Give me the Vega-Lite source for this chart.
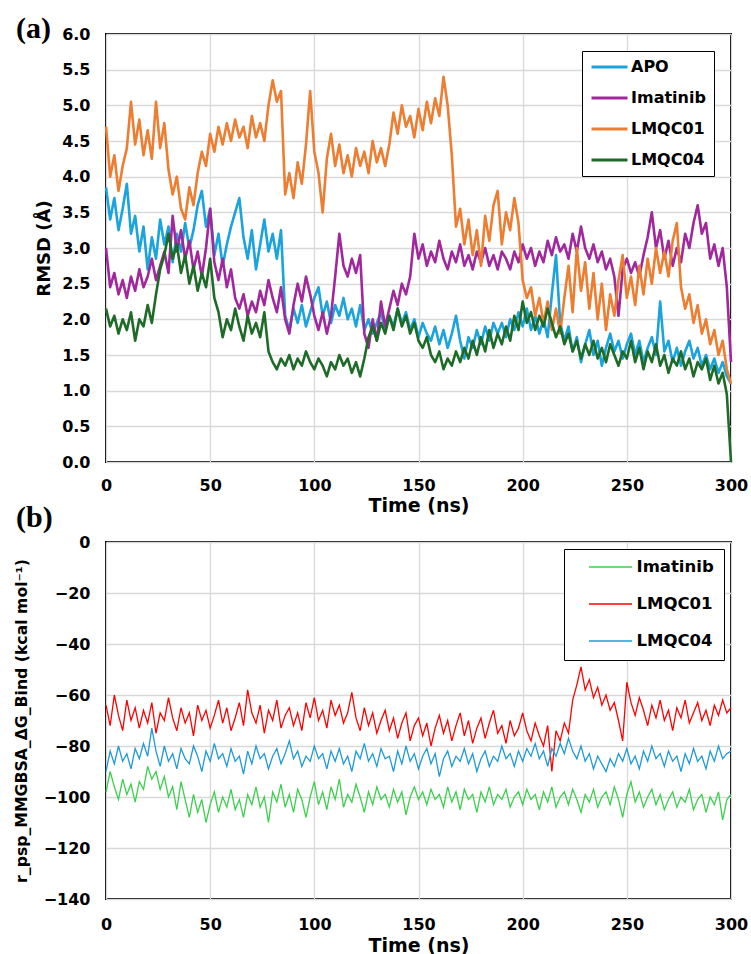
{
"$schema":"https://vega.github.io/schema/vega-lite/v6.json",
"background":"white",
"autosize":{"type":"pad"},
"padding":{"left":12,"top":13,"right":10,"bottom":0},
"spacing":80,
"bounds":"flush",
"resolve":{"scale":{"color":"independent"},"legend":{"color":"independent"}},
"datasets":{
"apo":[{"t":0,"v":3.85},{"t":2,"v":3.40},{"t":4,"v":3.70},{"t":6,"v":3.25},{"t":8,"v":3.55},{"t":10,"v":3.90},{"t":12,"v":3.20},{"t":14,"v":3.45},{"t":16,"v":2.95},{"t":18,"v":3.30},
{"t":20,"v":2.70},{"t":22,"v":3.15},{"t":24,"v":2.85},{"t":26,"v":3.40},{"t":28,"v":3.05},{"t":30,"v":3.30},{"t":32,"v":2.80},{"t":34,"v":3.20},{"t":36,"v":2.95},{"t":38,"v":3.35},
{"t":40,"v":3.00},{"t":42,"v":3.25},{"t":44,"v":3.60},{"t":46,"v":3.80},{"t":48,"v":3.30},{"t":50,"v":3.55},{"t":52,"v":2.90},{"t":54,"v":3.20},{"t":56,"v":2.75},{"t":58,"v":3.05},
{"t":60,"v":3.30},{"t":62,"v":3.50},{"t":64,"v":3.70},{"t":66,"v":3.15},{"t":68,"v":2.85},{"t":70,"v":3.25},{"t":72,"v":2.70},{"t":74,"v":3.05},{"t":76,"v":3.40},{"t":78,"v":2.95},
{"t":80,"v":3.20},{"t":82,"v":2.85},{"t":84,"v":3.25},{"t":86,"v":2.05},{"t":88,"v":1.85},{"t":90,"v":2.15},{"t":92,"v":1.95},{"t":94,"v":2.20},{"t":96,"v":1.90},{"t":98,"v":2.10},
{"t":100,"v":2.30},{"t":102,"v":2.45},{"t":104,"v":2.05},{"t":106,"v":2.25},{"t":108,"v":1.95},{"t":110,"v":2.20},{"t":112,"v":2.05},{"t":114,"v":2.30},{"t":116,"v":2.00},{"t":118,"v":2.15},
{"t":120,"v":1.90},{"t":122,"v":2.20},{"t":124,"v":1.85},{"t":126,"v":2.00},{"t":128,"v":1.80},{"t":130,"v":1.95},{"t":132,"v":2.10},{"t":134,"v":1.85},{"t":136,"v":2.05},{"t":138,"v":1.90},
{"t":140,"v":2.15},{"t":142,"v":1.95},{"t":144,"v":2.10},{"t":146,"v":1.85},{"t":148,"v":2.00},{"t":150,"v":1.75},{"t":152,"v":1.95},{"t":154,"v":1.80},{"t":156,"v":1.70},{"t":158,"v":1.90},
{"t":160,"v":1.65},{"t":162,"v":1.85},{"t":164,"v":1.60},{"t":166,"v":1.80},{"t":168,"v":2.05},{"t":170,"v":1.70},{"t":172,"v":1.45},{"t":174,"v":1.75},{"t":176,"v":1.60},{"t":178,"v":1.85},
{"t":180,"v":1.65},{"t":182,"v":1.90},{"t":184,"v":1.70},{"t":186,"v":1.95},{"t":188,"v":1.80},{"t":190,"v":1.95},{"t":192,"v":1.75},{"t":194,"v":2.00},{"t":196,"v":1.85},{"t":198,"v":2.10},
{"t":200,"v":1.90},{"t":202,"v":2.15},{"t":204,"v":1.85},{"t":206,"v":2.05},{"t":208,"v":1.80},{"t":210,"v":2.00},{"t":212,"v":1.75},{"t":214,"v":2.35},{"t":216,"v":2.90},{"t":218,"v":1.95},
{"t":220,"v":1.70},{"t":222,"v":1.90},{"t":224,"v":1.55},{"t":226,"v":1.75},{"t":228,"v":1.40},{"t":230,"v":1.65},{"t":232,"v":1.85},{"t":234,"v":1.50},{"t":236,"v":1.70},{"t":238,"v":1.35},
{"t":240,"v":1.60},{"t":242,"v":1.80},{"t":244,"v":1.55},{"t":246,"v":1.70},{"t":248,"v":1.45},{"t":250,"v":1.65},{"t":252,"v":1.80},{"t":254,"v":1.50},{"t":256,"v":1.70},{"t":258,"v":1.40},
{"t":260,"v":1.60},{"t":262,"v":1.75},{"t":264,"v":1.50},{"t":266,"v":2.25},{"t":268,"v":1.55},{"t":270,"v":1.70},{"t":272,"v":1.40},{"t":274,"v":1.60},{"t":276,"v":1.35},{"t":278,"v":1.55},
{"t":280,"v":1.70},{"t":282,"v":1.45},{"t":284,"v":1.60},{"t":286,"v":1.35},{"t":288,"v":1.50},{"t":290,"v":1.30},{"t":292,"v":1.45},{"t":294,"v":1.25},{"t":296,"v":1.40},{"t":298,"v":1.20},{"t":300,"v":1.10}],
"ima":[{"t":0,"v":3.00},{"t":2,"v":2.45},{"t":4,"v":2.65},{"t":6,"v":2.35},{"t":8,"v":2.55},{"t":10,"v":2.30},{"t":12,"v":2.60},{"t":14,"v":2.40},{"t":16,"v":2.70},{"t":18,"v":2.45},
{"t":20,"v":2.60},{"t":22,"v":2.85},{"t":24,"v":2.55},{"t":26,"v":2.75},{"t":28,"v":2.95},{"t":30,"v":2.65},{"t":32,"v":3.45},{"t":34,"v":2.95},{"t":36,"v":3.25},{"t":38,"v":2.85},
{"t":40,"v":3.10},{"t":42,"v":2.70},{"t":44,"v":2.95},{"t":46,"v":2.60},{"t":48,"v":3.00},{"t":50,"v":3.55},{"t":52,"v":2.80},{"t":54,"v":2.55},{"t":56,"v":2.85},{"t":58,"v":2.45},
{"t":60,"v":2.70},{"t":62,"v":2.30},{"t":64,"v":2.15},{"t":66,"v":2.35},{"t":68,"v":2.05},{"t":70,"v":2.25},{"t":72,"v":2.10},{"t":74,"v":2.40},{"t":76,"v":2.20},{"t":78,"v":2.55},
{"t":80,"v":2.30},{"t":82,"v":2.10},{"t":84,"v":2.45},{"t":86,"v":2.00},{"t":88,"v":1.80},{"t":90,"v":2.20},{"t":92,"v":2.50},{"t":94,"v":2.25},{"t":96,"v":2.60},{"t":98,"v":2.35},
{"t":100,"v":2.05},{"t":102,"v":1.85},{"t":104,"v":2.10},{"t":106,"v":1.80},{"t":108,"v":2.05},{"t":110,"v":2.60},{"t":112,"v":3.20},{"t":114,"v":2.75},{"t":116,"v":2.60},{"t":118,"v":2.85},
{"t":120,"v":2.65},{"t":122,"v":2.90},{"t":124,"v":1.80},{"t":126,"v":1.60},{"t":128,"v":2.00},{"t":130,"v":1.70},{"t":132,"v":2.25},{"t":134,"v":1.90},{"t":136,"v":2.15},{"t":138,"v":2.40},
{"t":140,"v":2.20},{"t":142,"v":2.50},{"t":144,"v":2.35},{"t":146,"v":2.60},{"t":148,"v":3.20},{"t":150,"v":2.85},{"t":152,"v":3.05},{"t":154,"v":2.75},{"t":156,"v":2.95},{"t":158,"v":2.80},
{"t":160,"v":3.10},{"t":162,"v":2.85},{"t":164,"v":2.70},{"t":166,"v":2.95},{"t":168,"v":2.80},{"t":170,"v":3.05},{"t":172,"v":2.75},{"t":174,"v":2.90},{"t":176,"v":2.70},{"t":178,"v":2.95},
{"t":180,"v":2.80},{"t":182,"v":3.00},{"t":184,"v":2.75},{"t":186,"v":2.90},{"t":188,"v":2.70},{"t":190,"v":2.95},{"t":192,"v":2.85},{"t":194,"v":2.70},{"t":196,"v":2.95},{"t":198,"v":2.80},
{"t":200,"v":3.05},{"t":202,"v":2.85},{"t":204,"v":3.00},{"t":206,"v":2.75},{"t":208,"v":2.95},{"t":210,"v":2.80},{"t":212,"v":3.10},{"t":214,"v":2.90},{"t":216,"v":3.15},{"t":218,"v":2.95},
{"t":220,"v":3.05},{"t":222,"v":2.85},{"t":224,"v":3.20},{"t":226,"v":2.95},{"t":228,"v":3.30},{"t":230,"v":3.00},{"t":232,"v":2.85},{"t":234,"v":3.05},{"t":236,"v":2.80},{"t":238,"v":2.95},
{"t":240,"v":2.70},{"t":242,"v":2.85},{"t":244,"v":2.60},{"t":246,"v":2.05},{"t":248,"v":2.70},{"t":250,"v":2.85},{"t":252,"v":2.65},{"t":254,"v":2.80},{"t":256,"v":2.60},{"t":258,"v":2.90},
{"t":260,"v":3.15},{"t":262,"v":3.50},{"t":264,"v":3.00},{"t":266,"v":3.25},{"t":268,"v":2.85},{"t":270,"v":3.10},{"t":272,"v":2.75},{"t":274,"v":3.00},{"t":276,"v":2.80},{"t":278,"v":3.20},
{"t":280,"v":3.00},{"t":282,"v":3.35},{"t":284,"v":3.60},{"t":286,"v":3.20},{"t":288,"v":3.35},{"t":290,"v":2.85},{"t":292,"v":3.05},{"t":294,"v":2.75},{"t":296,"v":3.00},{"t":298,"v":2.45},{"t":300,"v":1.40}],
"l01":[{"t":0,"v":4.70},{"t":2,"v":4.00},{"t":4,"v":4.30},{"t":6,"v":3.80},{"t":8,"v":4.15},{"t":10,"v":4.40},{"t":12,"v":5.05},{"t":14,"v":4.45},{"t":16,"v":4.80},{"t":18,"v":4.30},
{"t":20,"v":4.65},{"t":22,"v":4.25},{"t":24,"v":5.05},{"t":26,"v":4.40},{"t":28,"v":4.75},{"t":30,"v":4.10},{"t":32,"v":3.75},{"t":34,"v":4.00},{"t":36,"v":3.55},{"t":38,"v":3.40},
{"t":40,"v":3.85},{"t":42,"v":3.60},{"t":44,"v":4.05},{"t":46,"v":4.35},{"t":48,"v":4.15},{"t":50,"v":4.60},{"t":52,"v":4.35},{"t":54,"v":4.70},{"t":56,"v":4.45},{"t":58,"v":4.75},
{"t":60,"v":4.50},{"t":62,"v":4.80},{"t":64,"v":4.55},{"t":66,"v":4.70},{"t":68,"v":4.40},{"t":70,"v":4.85},{"t":72,"v":4.55},{"t":74,"v":4.75},{"t":76,"v":4.50},{"t":78,"v":5.00},
{"t":80,"v":5.35},{"t":82,"v":5.05},{"t":84,"v":5.20},{"t":86,"v":3.75},{"t":88,"v":4.05},{"t":90,"v":3.70},{"t":92,"v":4.20},{"t":94,"v":3.90},{"t":96,"v":4.45},{"t":98,"v":5.20},
{"t":100,"v":4.35},{"t":102,"v":4.05},{"t":104,"v":3.50},{"t":106,"v":4.25},{"t":108,"v":4.60},{"t":110,"v":4.15},{"t":112,"v":4.45},{"t":114,"v":4.05},{"t":116,"v":4.30},{"t":118,"v":4.00},
{"t":120,"v":4.40},{"t":122,"v":4.15},{"t":124,"v":4.35},{"t":126,"v":4.05},{"t":128,"v":4.50},{"t":130,"v":4.20},{"t":132,"v":4.40},{"t":134,"v":4.15},{"t":136,"v":4.45},{"t":138,"v":4.90},
{"t":140,"v":4.60},{"t":142,"v":5.00},{"t":144,"v":4.70},{"t":146,"v":4.85},{"t":148,"v":4.55},{"t":150,"v":4.95},{"t":152,"v":4.65},{"t":154,"v":5.05},{"t":156,"v":4.75},{"t":158,"v":5.10},
{"t":160,"v":4.85},{"t":162,"v":5.40},{"t":164,"v":5.00},{"t":166,"v":4.30},{"t":168,"v":3.30},{"t":170,"v":3.55},{"t":172,"v":3.05},{"t":174,"v":3.40},{"t":176,"v":2.90},{"t":178,"v":3.25},
{"t":180,"v":2.75},{"t":182,"v":3.45},{"t":184,"v":3.10},{"t":186,"v":3.60},{"t":188,"v":3.80},{"t":190,"v":3.05},{"t":192,"v":3.50},{"t":194,"v":3.25},{"t":196,"v":3.70},{"t":198,"v":3.35},
{"t":200,"v":2.55},{"t":202,"v":2.30},{"t":204,"v":2.45},{"t":206,"v":2.05},{"t":208,"v":2.30},{"t":210,"v":1.95},{"t":212,"v":2.25},{"t":214,"v":1.85},{"t":216,"v":2.15},{"t":218,"v":1.80},
{"t":220,"v":2.30},{"t":222,"v":2.75},{"t":224,"v":2.10},{"t":226,"v":3.00},{"t":228,"v":2.40},{"t":230,"v":2.80},{"t":232,"v":2.15},{"t":234,"v":2.65},{"t":236,"v":2.00},{"t":238,"v":2.50},
{"t":240,"v":1.85},{"t":242,"v":2.35},{"t":244,"v":2.05},{"t":246,"v":2.55},{"t":248,"v":2.90},{"t":250,"v":2.30},{"t":252,"v":2.60},{"t":254,"v":2.20},{"t":256,"v":2.75},{"t":258,"v":2.35},
{"t":260,"v":2.85},{"t":262,"v":2.50},{"t":264,"v":3.00},{"t":266,"v":2.65},{"t":268,"v":2.95},{"t":270,"v":2.60},{"t":272,"v":3.10},{"t":274,"v":3.35},{"t":276,"v":2.45},{"t":278,"v":2.15},
{"t":280,"v":2.35},{"t":282,"v":1.95},{"t":284,"v":2.20},{"t":286,"v":1.80},{"t":288,"v":2.00},{"t":290,"v":1.65},{"t":292,"v":1.85},{"t":294,"v":1.50},{"t":296,"v":1.70},{"t":298,"v":1.30},{"t":300,"v":1.10}],
"l04":[{"t":0,"v":2.15},{"t":2,"v":1.90},{"t":4,"v":2.05},{"t":6,"v":1.80},{"t":8,"v":2.00},{"t":10,"v":1.85},{"t":12,"v":2.10},{"t":14,"v":1.70},{"t":16,"v":2.00},{"t":18,"v":1.90},
{"t":20,"v":2.20},{"t":22,"v":1.95},{"t":24,"v":2.35},{"t":26,"v":2.70},{"t":28,"v":2.90},{"t":30,"v":3.20},{"t":32,"v":2.85},{"t":34,"v":3.05},{"t":36,"v":2.65},{"t":38,"v":2.90},
{"t":40,"v":2.50},{"t":42,"v":2.75},{"t":44,"v":2.40},{"t":46,"v":2.65},{"t":48,"v":2.45},{"t":50,"v":2.85},{"t":52,"v":2.30},{"t":54,"v":2.10},{"t":56,"v":1.75},{"t":58,"v":2.00},
{"t":60,"v":1.85},{"t":62,"v":2.15},{"t":64,"v":1.90},{"t":66,"v":1.70},{"t":68,"v":2.05},{"t":70,"v":1.80},{"t":72,"v":1.95},{"t":74,"v":1.75},{"t":76,"v":2.10},{"t":78,"v":1.55},
{"t":80,"v":1.40},{"t":82,"v":1.30},{"t":84,"v":1.45},{"t":86,"v":1.35},{"t":88,"v":1.50},{"t":90,"v":1.30},{"t":92,"v":1.45},{"t":94,"v":1.35},{"t":96,"v":1.55},{"t":98,"v":1.40},
{"t":100,"v":1.30},{"t":102,"v":1.45},{"t":104,"v":1.35},{"t":106,"v":1.20},{"t":108,"v":1.40},{"t":110,"v":1.30},{"t":112,"v":1.50},{"t":114,"v":1.35},{"t":116,"v":1.45},{"t":118,"v":1.25},
{"t":120,"v":1.40},{"t":122,"v":1.20},{"t":124,"v":1.45},{"t":126,"v":1.75},{"t":128,"v":1.90},{"t":130,"v":1.70},{"t":132,"v":1.95},{"t":134,"v":1.80},{"t":136,"v":2.05},{"t":138,"v":1.85},
{"t":140,"v":2.15},{"t":142,"v":1.90},{"t":144,"v":2.05},{"t":146,"v":1.80},{"t":148,"v":1.95},{"t":150,"v":1.70},{"t":152,"v":1.60},{"t":154,"v":1.75},{"t":156,"v":1.50},{"t":158,"v":1.40},
{"t":160,"v":1.55},{"t":162,"v":1.30},{"t":164,"v":1.45},{"t":166,"v":1.35},{"t":168,"v":1.55},{"t":170,"v":1.40},{"t":172,"v":1.60},{"t":174,"v":1.45},{"t":176,"v":1.70},{"t":178,"v":1.50},
{"t":180,"v":1.75},{"t":182,"v":1.55},{"t":184,"v":1.85},{"t":186,"v":1.60},{"t":188,"v":1.80},{"t":190,"v":1.65},{"t":192,"v":1.90},{"t":194,"v":1.70},{"t":196,"v":2.05},{"t":198,"v":1.85},
{"t":200,"v":2.25},{"t":202,"v":1.95},{"t":204,"v":2.10},{"t":206,"v":1.85},{"t":208,"v":2.05},{"t":210,"v":1.90},{"t":212,"v":2.15},{"t":214,"v":1.95},{"t":216,"v":1.75},{"t":218,"v":1.90},
{"t":220,"v":1.65},{"t":222,"v":1.80},{"t":224,"v":1.55},{"t":226,"v":1.70},{"t":228,"v":1.45},{"t":230,"v":1.65},{"t":232,"v":1.50},{"t":234,"v":1.70},{"t":236,"v":1.45},{"t":238,"v":1.60},
{"t":240,"v":1.40},{"t":242,"v":1.65},{"t":244,"v":1.50},{"t":246,"v":1.35},{"t":248,"v":1.55},{"t":250,"v":1.45},{"t":252,"v":1.70},{"t":254,"v":1.40},{"t":256,"v":1.60},{"t":258,"v":1.30},
{"t":260,"v":1.55},{"t":262,"v":1.40},{"t":264,"v":1.65},{"t":266,"v":1.35},{"t":268,"v":1.50},{"t":270,"v":1.25},{"t":272,"v":1.45},{"t":274,"v":1.35},{"t":276,"v":1.55},{"t":278,"v":1.30},
{"t":280,"v":1.45},{"t":282,"v":1.20},{"t":284,"v":1.40},{"t":286,"v":1.30},{"t":288,"v":1.45},{"t":290,"v":1.15},{"t":292,"v":1.35},{"t":294,"v":1.10},{"t":296,"v":1.25},{"t":298,"v":0.95},{"t":300,"v":0.00}],
"bima":[{"t":0,"v":-98},{"t":2,"v":-90},{"t":4,"v":-96},{"t":6,"v":-101},{"t":8,"v":-93},{"t":10,"v":-99},{"t":12,"v":-95},{"t":14,"v":-102},{"t":16,"v":-94},{"t":18,"v":-97},
{"t":20,"v":-88},{"t":22,"v":-93},{"t":24,"v":-90},{"t":26,"v":-97},{"t":28,"v":-92},{"t":30,"v":-100},{"t":32,"v":-96},{"t":34,"v":-105},{"t":36,"v":-94},{"t":38,"v":-101},
{"t":40,"v":-108},{"t":42,"v":-99},{"t":44,"v":-106},{"t":46,"v":-101},{"t":48,"v":-110},{"t":50,"v":-103},{"t":52,"v":-98},{"t":54,"v":-106},{"t":56,"v":-100},{"t":58,"v":-104},
{"t":60,"v":-97},{"t":62,"v":-105},{"t":64,"v":-101},{"t":66,"v":-108},{"t":68,"v":-99},{"t":70,"v":-103},{"t":72,"v":-96},{"t":74,"v":-104},{"t":76,"v":-100},{"t":78,"v":-110},
{"t":80,"v":-98},{"t":82,"v":-102},{"t":84,"v":-95},{"t":86,"v":-104},{"t":88,"v":-99},{"t":90,"v":-106},{"t":92,"v":-97},{"t":94,"v":-101},{"t":96,"v":-108},{"t":98,"v":-100},
{"t":100,"v":-94},{"t":102,"v":-103},{"t":104,"v":-98},{"t":106,"v":-105},{"t":108,"v":-96},{"t":110,"v":-101},{"t":112,"v":-93},{"t":114,"v":-104},{"t":116,"v":-99},{"t":118,"v":-102},
{"t":120,"v":-95},{"t":122,"v":-100},{"t":124,"v":-106},{"t":126,"v":-98},{"t":128,"v":-103},{"t":130,"v":-96},{"t":132,"v":-101},{"t":134,"v":-99},{"t":136,"v":-104},{"t":138,"v":-97},
{"t":140,"v":-102},{"t":142,"v":-98},{"t":144,"v":-107},{"t":146,"v":-100},{"t":148,"v":-96},{"t":150,"v":-101},{"t":152,"v":-98},{"t":154,"v":-103},{"t":156,"v":-97},{"t":158,"v":-101},
{"t":160,"v":-99},{"t":162,"v":-104},{"t":164,"v":-96},{"t":166,"v":-102},{"t":168,"v":-98},{"t":170,"v":-105},{"t":172,"v":-97},{"t":174,"v":-101},{"t":176,"v":-99},{"t":178,"v":-106},
{"t":180,"v":-98},{"t":182,"v":-102},{"t":184,"v":-96},{"t":186,"v":-103},{"t":188,"v":-99},{"t":190,"v":-101},{"t":192,"v":-97},{"t":194,"v":-104},{"t":196,"v":-100},{"t":198,"v":-98},
{"t":200,"v":-103},{"t":202,"v":-97},{"t":204,"v":-101},{"t":206,"v":-99},{"t":208,"v":-105},{"t":210,"v":-98},{"t":212,"v":-102},{"t":214,"v":-96},{"t":216,"v":-104},{"t":218,"v":-100},
{"t":220,"v":-98},{"t":222,"v":-103},{"t":224,"v":-97},{"t":226,"v":-101},{"t":228,"v":-106},{"t":230,"v":-99},{"t":232,"v":-102},{"t":234,"v":-97},{"t":236,"v":-104},{"t":238,"v":-100},
{"t":240,"v":-98},{"t":242,"v":-103},{"t":244,"v":-96},{"t":246,"v":-101},{"t":248,"v":-108},{"t":250,"v":-99},{"t":252,"v":-94},{"t":254,"v":-102},{"t":256,"v":-98},{"t":258,"v":-104},
{"t":260,"v":-100},{"t":262,"v":-97},{"t":264,"v":-103},{"t":266,"v":-99},{"t":268,"v":-105},{"t":270,"v":-101},{"t":272,"v":-98},{"t":274,"v":-104},{"t":276,"v":-100},{"t":278,"v":-102},
{"t":280,"v":-97},{"t":282,"v":-105},{"t":284,"v":-101},{"t":286,"v":-99},{"t":288,"v":-106},{"t":290,"v":-100},{"t":292,"v":-103},{"t":294,"v":-98},{"t":296,"v":-109},{"t":298,"v":-101},{"t":300,"v":-99}],
"bl01":[{"t":0,"v":-64},{"t":2,"v":-72},{"t":4,"v":-60},{"t":6,"v":-68},{"t":8,"v":-74},{"t":10,"v":-62},{"t":12,"v":-70},{"t":14,"v":-65},{"t":16,"v":-73},{"t":18,"v":-66},
{"t":20,"v":-71},{"t":22,"v":-63},{"t":24,"v":-75},{"t":26,"v":-67},{"t":28,"v":-70},{"t":30,"v":-61},{"t":32,"v":-69},{"t":34,"v":-74},{"t":36,"v":-65},{"t":38,"v":-71},
{"t":40,"v":-67},{"t":42,"v":-76},{"t":44,"v":-64},{"t":46,"v":-70},{"t":48,"v":-66},{"t":50,"v":-73},{"t":52,"v":-68},{"t":54,"v":-62},{"t":56,"v":-71},{"t":58,"v":-65},
{"t":60,"v":-74},{"t":62,"v":-69},{"t":64,"v":-63},{"t":66,"v":-72},{"t":68,"v":-58},{"t":70,"v":-67},{"t":72,"v":-71},{"t":74,"v":-64},{"t":76,"v":-75},{"t":78,"v":-66},
{"t":80,"v":-70},{"t":82,"v":-62},{"t":84,"v":-73},{"t":86,"v":-68},{"t":88,"v":-65},{"t":90,"v":-72},{"t":92,"v":-67},{"t":94,"v":-74},{"t":96,"v":-63},{"t":98,"v":-69},
{"t":100,"v":-61},{"t":102,"v":-70},{"t":104,"v":-66},{"t":106,"v":-73},{"t":108,"v":-62},{"t":110,"v":-68},{"t":112,"v":-64},{"t":114,"v":-71},{"t":116,"v":-67},{"t":118,"v":-59},
{"t":120,"v":-69},{"t":122,"v":-74},{"t":124,"v":-65},{"t":126,"v":-72},{"t":128,"v":-67},{"t":130,"v":-75},{"t":132,"v":-70},{"t":134,"v":-66},{"t":136,"v":-74},{"t":138,"v":-69},
{"t":140,"v":-77},{"t":142,"v":-71},{"t":144,"v":-67},{"t":146,"v":-78},{"t":148,"v":-72},{"t":150,"v":-69},{"t":152,"v":-76},{"t":154,"v":-71},{"t":156,"v":-80},{"t":158,"v":-73},
{"t":160,"v":-68},{"t":162,"v":-75},{"t":164,"v":-70},{"t":166,"v":-78},{"t":168,"v":-72},{"t":170,"v":-67},{"t":172,"v":-76},{"t":174,"v":-70},{"t":176,"v":-79},{"t":178,"v":-73},
{"t":180,"v":-69},{"t":182,"v":-77},{"t":184,"v":-71},{"t":186,"v":-66},{"t":188,"v":-75},{"t":190,"v":-72},{"t":192,"v":-79},{"t":194,"v":-70},{"t":196,"v":-76},{"t":198,"v":-73},
{"t":200,"v":-67},{"t":202,"v":-74},{"t":204,"v":-78},{"t":206,"v":-71},{"t":208,"v":-76},{"t":210,"v":-80},{"t":212,"v":-72},{"t":214,"v":-90},{"t":216,"v":-74},{"t":218,"v":-78},
{"t":220,"v":-71},{"t":222,"v":-75},{"t":224,"v":-62},{"t":226,"v":-56},{"t":228,"v":-49},{"t":230,"v":-58},{"t":232,"v":-54},{"t":234,"v":-61},{"t":236,"v":-57},{"t":238,"v":-64},
{"t":240,"v":-60},{"t":242,"v":-66},{"t":244,"v":-63},{"t":246,"v":-70},{"t":248,"v":-78},{"t":250,"v":-55},{"t":252,"v":-63},{"t":254,"v":-68},{"t":256,"v":-61},{"t":258,"v":-66},
{"t":260,"v":-72},{"t":262,"v":-64},{"t":264,"v":-69},{"t":266,"v":-62},{"t":268,"v":-70},{"t":270,"v":-66},{"t":272,"v":-74},{"t":274,"v":-65},{"t":276,"v":-69},{"t":278,"v":-62},
{"t":280,"v":-71},{"t":282,"v":-67},{"t":284,"v":-63},{"t":286,"v":-70},{"t":288,"v":-66},{"t":290,"v":-72},{"t":292,"v":-64},{"t":294,"v":-68},{"t":296,"v":-62},{"t":298,"v":-67},{"t":300,"v":-65}],
"bl04":[{"t":0,"v":-90},{"t":2,"v":-82},{"t":4,"v":-87},{"t":6,"v":-80},{"t":8,"v":-86},{"t":10,"v":-83},{"t":12,"v":-89},{"t":14,"v":-81},{"t":16,"v":-85},{"t":18,"v":-79},
{"t":20,"v":-84},{"t":22,"v":-73},{"t":24,"v":-82},{"t":26,"v":-88},{"t":28,"v":-80},{"t":30,"v":-86},{"t":32,"v":-83},{"t":34,"v":-89},{"t":36,"v":-81},{"t":38,"v":-85},
{"t":40,"v":-87},{"t":42,"v":-80},{"t":44,"v":-84},{"t":46,"v":-90},{"t":48,"v":-82},{"t":50,"v":-86},{"t":52,"v":-79},{"t":54,"v":-85},{"t":56,"v":-83},{"t":58,"v":-88},
{"t":60,"v":-81},{"t":62,"v":-86},{"t":64,"v":-84},{"t":66,"v":-91},{"t":68,"v":-82},{"t":70,"v":-87},{"t":72,"v":-80},{"t":74,"v":-85},{"t":76,"v":-83},{"t":78,"v":-89},
{"t":80,"v":-84},{"t":82,"v":-81},{"t":84,"v":-87},{"t":86,"v":-83},{"t":88,"v":-78},{"t":90,"v":-85},{"t":92,"v":-82},{"t":94,"v":-88},{"t":96,"v":-84},{"t":98,"v":-86},
{"t":100,"v":-80},{"t":102,"v":-85},{"t":104,"v":-83},{"t":106,"v":-89},{"t":108,"v":-82},{"t":110,"v":-86},{"t":112,"v":-81},{"t":114,"v":-87},{"t":116,"v":-84},{"t":118,"v":-90},
{"t":120,"v":-82},{"t":122,"v":-85},{"t":124,"v":-79},{"t":126,"v":-86},{"t":128,"v":-83},{"t":130,"v":-88},{"t":132,"v":-81},{"t":134,"v":-85},{"t":136,"v":-84},{"t":138,"v":-90},
{"t":140,"v":-82},{"t":142,"v":-87},{"t":144,"v":-80},{"t":146,"v":-86},{"t":148,"v":-83},{"t":150,"v":-89},{"t":152,"v":-84},{"t":154,"v":-81},{"t":156,"v":-87},{"t":158,"v":-83},
{"t":160,"v":-92},{"t":162,"v":-85},{"t":164,"v":-82},{"t":166,"v":-88},{"t":168,"v":-84},{"t":170,"v":-86},{"t":172,"v":-81},{"t":174,"v":-87},{"t":176,"v":-83},{"t":178,"v":-90},
{"t":180,"v":-85},{"t":182,"v":-82},{"t":184,"v":-88},{"t":186,"v":-84},{"t":188,"v":-86},{"t":190,"v":-80},{"t":192,"v":-85},{"t":194,"v":-83},{"t":196,"v":-88},{"t":198,"v":-82},
{"t":200,"v":-86},{"t":202,"v":-81},{"t":204,"v":-84},{"t":206,"v":-79},{"t":208,"v":-85},{"t":210,"v":-82},{"t":212,"v":-88},{"t":214,"v":-81},{"t":216,"v":-84},{"t":218,"v":-79},
{"t":220,"v":-83},{"t":222,"v":-77},{"t":224,"v":-82},{"t":226,"v":-85},{"t":228,"v":-80},{"t":230,"v":-86},{"t":232,"v":-83},{"t":234,"v":-89},{"t":236,"v":-84},{"t":238,"v":-87},
{"t":240,"v":-90},{"t":242,"v":-85},{"t":244,"v":-88},{"t":246,"v":-83},{"t":248,"v":-86},{"t":250,"v":-81},{"t":252,"v":-87},{"t":254,"v":-84},{"t":256,"v":-89},{"t":258,"v":-82},
{"t":260,"v":-86},{"t":262,"v":-80},{"t":264,"v":-85},{"t":266,"v":-83},{"t":268,"v":-88},{"t":270,"v":-82},{"t":272,"v":-86},{"t":274,"v":-84},{"t":276,"v":-90},{"t":278,"v":-83},
{"t":280,"v":-87},{"t":282,"v":-81},{"t":284,"v":-86},{"t":286,"v":-84},{"t":288,"v":-89},{"t":290,"v":-82},{"t":292,"v":-86},{"t":294,"v":-80},{"t":296,"v":-85},{"t":298,"v":-83},{"t":300,"v":-82}]
},
"vconcat":[
{
"width":625,"height":428,
"title":{"text":"(a)","anchor":"start","frame":"group","dx":-90,"dy":28,"offset":-14,"baseline":"alphabetic","font":"Liberation Serif","fontSize":30,"fontWeight":"bold","color":"#000000"},
"encoding":{
"x":{"field":"t","type":"quantitative","scale":{"domain":[0,300],"nice":false,"zero":false},"axis":{"title":"Time (ns)","values":[0,50,100,150,200,250,300],"format":"d","labelPadding":15,"titlePadding":3,"titleFontSize":19}},
"y":{"field":"v","type":"quantitative","scale":{"domain":[0,6],"nice":false},"axis":{"title":"RMSD (Å)","values":[0,0.5,1,1.5,2,2.5,3,3.5,4,4.5,5,5.5,6],"format":".1f","labelPadding":16,"titlePadding":8,"titleFontSize":18}}
},
"layer":[
{"data":{"name":"apo"},"mark":{"type":"line","strokeWidth":2.6,"strokeJoin":"round"},"encoding":{"color":{"datum":"APO","type":"nominal","scale":{"domain":["APO","Imatinib","LMQC01","LMQC04"],"range":["#1aa3dc","#a0289c","#ed7d31","#1e6b28"]},"legend":{"title":null,"orient":"top-right","offset":17,"symbolType":"stroke","symbolSize":1296,"symbolStrokeWidth":3,"clipHeight":16,"rowPadding":15,"padding":8,"labelOffset":2,"labelFontSize":16,"labelFont":"DejaVu Sans","labelFontWeight":"bold","labelColor":"#000000","fillColor":"#ffffff","strokeColor":"#000000"}}}},
{"data":{"name":"ima"},"mark":{"type":"line","strokeWidth":2.6,"strokeJoin":"round"},"encoding":{"color":{"datum":"Imatinib","type":"nominal"}}},
{"data":{"name":"l01"},"mark":{"type":"line","strokeWidth":2.6,"strokeJoin":"round"},"encoding":{"color":{"datum":"LMQC01","type":"nominal"}}},
{"data":{"name":"l04"},"mark":{"type":"line","strokeWidth":2.6,"strokeJoin":"round"},"encoding":{"color":{"datum":"LMQC04","type":"nominal"}}}
]
},
{
"width":625,"height":357,
"title":{"text":"(b)","anchor":"start","frame":"group","dx":-90,"dy":29,"offset":6,"baseline":"alphabetic","font":"Liberation Serif","fontSize":30,"fontWeight":"bold","color":"#000000"},
"encoding":{
"x":{"field":"t","type":"quantitative","scale":{"domain":[0,300],"nice":false,"zero":false},"axis":{"title":"Time (ns)","values":[0,50,100,150,200,250,300],"format":"d","labelPadding":17,"titlePadding":4,"titleFontSize":19}},
"y":{"field":"v","type":"quantitative","scale":{"domain":[-140,0],"nice":false,"zero":false},"axis":{"title":"r_psp_MMGBSA_ΔG_Bind (kcal mol⁻¹)","values":[-140,-120,-100,-80,-60,-40,-20,0],"format":"d","labelPadding":16,"titlePadding":14,"titleFontSize":15.7}}
},
"layer":[
{"data":{"name":"bima"},"mark":{"type":"line","strokeWidth":1.3},"encoding":{"color":{"datum":"Imatinib","type":"nominal","scale":{"domain":["Imatinib","LMQC01","LMQC04"],"range":["#3ccf4e","#ff0000","#1f9ad6"]},"legend":{"title":null,"orient":"top-right","offset":7,"symbolType":"stroke","symbolSize":1849,"symbolStrokeWidth":1.5,"symbolOffset":14,"clipHeight":16,"rowPadding":20,"padding":10,"labelOffset":3.5,"labelFontSize":16.5,"labelFont":"DejaVu Sans","labelFontWeight":"bold","labelColor":"#000000","fillColor":"#ffffff","strokeColor":"#000000"}}}},
{"data":{"name":"bl01"},"mark":{"type":"line","strokeWidth":1.3},"encoding":{"color":{"datum":"LMQC01","type":"nominal"}}},
{"data":{"name":"bl04"},"mark":{"type":"line","strokeWidth":1.3},"encoding":{"color":{"datum":"LMQC04","type":"nominal"}}}
]
}
],
"config":{
"font":"DejaVu Sans",
"view":{"stroke":"#000000","strokeWidth":2},
"axis":{"grid":true,"gridColor":"#d9d9d9","gridWidth":1.3,"domain":false,"ticks":false,"tickSize":0,"labelFont":"DejaVu Sans","labelFontWeight":"bold","labelFontSize":16,"labelColor":"#000000","labelFlush":false,"labelOverlap":false,"labelBound":false,"titleFont":"DejaVu Sans","titleFontWeight":"bold","titleColor":"#000000"}
}
}
